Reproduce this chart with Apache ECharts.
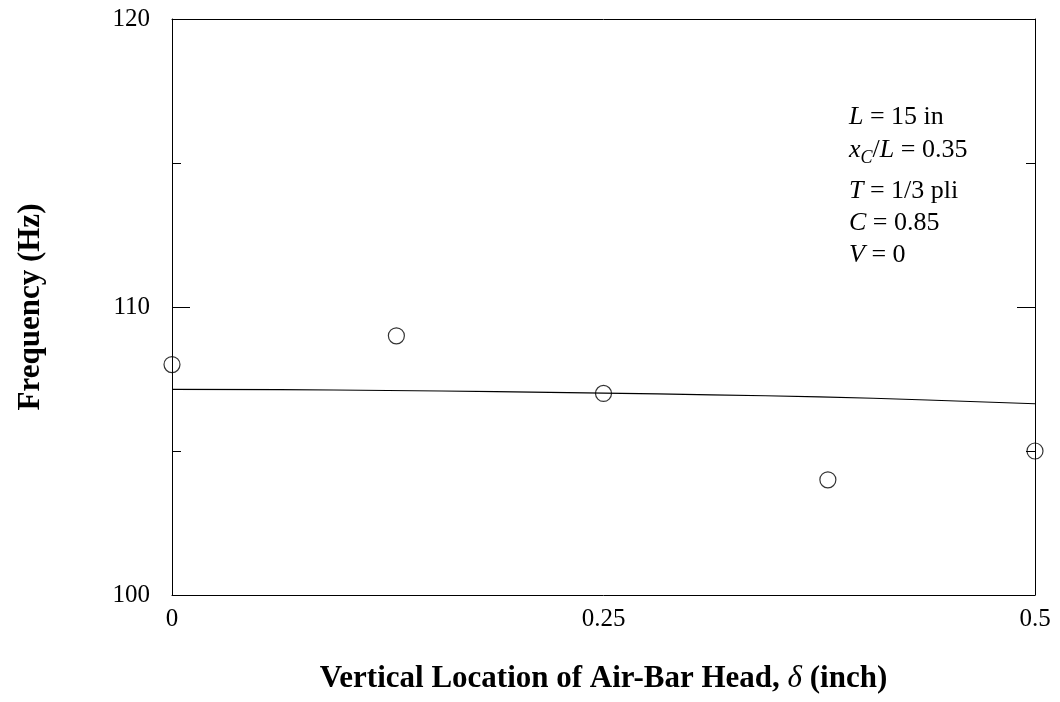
<!DOCTYPE html>
<html>
<head>
<meta charset="utf-8">
<script src="https://cdn.jsdelivr.net/npm/echarts@6/dist/echarts.min.js"></script>
<style>
  html, body { margin: 0; padding: 0; background: #fff; }
  #chart { width: 1060px; height: 702px; }
</style>
</head>
<body>
<div id="chart"></div>
<script>
// Measured frequencies vs. air-bar head vertical location
const measuredX = [0, 0.13, 0.25, 0.38, 0.5];
const measuredY = [108, 109, 107, 104, 105];

// Predicted frequency curve
const modelX = [0, 0.0625, 0.125, 0.1875, 0.25, 0.3125, 0.375, 0.4375, 0.5];
const modelY = [107.14, 107.13, 107.10, 107.06, 107.01, 106.95, 106.88, 106.77, 106.64];

// Axis tick labels
const xTickLabels = { 0: '0', 0.25: '0.25', 0.5: '0.5' };
const yTickLabels = { 100: '100', 110: '110', 120: '120' };

// Parameter annotation lines (rich-text markup)
const noteLines = [
  '{i|L}{r| = 15 in}',
  '{i|x}{s|C}{r|/}{i|L}{r| = 0.35}',
  '{i|T}{r| = 1/3 pli}',
  '{i|C}{r| = 0.85}',
  '{i|V}{r| = 0}'
];
const noteY = [117, 150, 191, 223, 255];

const serif = '"Liberation Serif", "Times New Roman", serif';

const chart = echarts.init(document.getElementById('chart'), null, { renderer: 'canvas' });

const frameLine = { show: true, onZero: false, lineStyle: { color: '#000', width: 1 } };
const yTicks = { show: true, inside: true, length: 18, lineStyle: { color: '#000', width: 1 } };
const yMinor = { show: true, splitNumber: 2, length: 9, lineStyle: { color: '#000', width: 1 } };

const noteRich = {
  i: { fontFamily: serif, fontSize: 26, fontStyle: 'italic', fill: '#000', lineHeight: 34 },
  r: { fontFamily: serif, fontSize: 26, fill: '#000', lineHeight: 34 },
  s: { fontFamily: serif, fontSize: 18, fontStyle: 'italic', fill: '#000', lineHeight: 18, verticalAlign: 'bottom' }
};

chart.setOption({
  animation: false,
  backgroundColor: '#fff',
  grid: { left: 172, right: 25, top: 19, bottom: 107, show: false, containLabel: false, outerBoundsMode: 'none' },
  xAxis: [{
    type: 'value', min: 0, max: 0.5, interval: 0.25, position: 'bottom',
    axisLine: frameLine,
    axisTick: { show: false },
    splitLine: { show: false },
    axisLabel: {
      margin: 12, color: '#000', fontFamily: serif, fontSize: 25,
      formatter: v => xTickLabels[v] !== undefined ? xTickLabels[v] : ''
    },
    name: '{b|Vertical Location of Air-Bar Head, }{d|δ}{b| (inch)}',
    nameLocation: 'middle', nameGap: 68,
    nameTextStyle: {
      rich: {
        b: { fontFamily: serif, fontSize: 31, fontWeight: 'bold', color: '#000' },
        d: { fontFamily: serif, fontSize: 31, fontStyle: 'italic', color: '#000' }
      }
    }
  }, {
    type: 'value', min: 0, max: 0.5, interval: 0.25, position: 'top',
    axisLine: frameLine, axisTick: { show: false }, axisLabel: { show: false },
    splitLine: { show: false }
  }],
  yAxis: [{
    type: 'value', min: 100, max: 120, interval: 10, position: 'left',
    axisLine: frameLine,
    axisTick: yTicks,
    minorTick: yMinor,
    splitLine: { show: false },
    axisLabel: {
      margin: 22, color: '#000', fontFamily: serif, fontSize: 25,
      formatter: v => yTickLabels[v] || ''
    },
    name: 'Frequency (Hz)', nameLocation: 'middle', nameGap: 126, nameRotate: 90,
    nameTextStyle: { fontFamily: serif, fontSize: 31, fontWeight: 'bold', color: '#000' }
  }, {
    type: 'value', min: 100, max: 120, interval: 10, position: 'right',
    axisLine: frameLine,
    axisTick: yTicks,
    minorTick: yMinor,
    axisLabel: { show: false }, splitLine: { show: false }
  }],
  graphic: noteLines.map((t, k) => ({
    type: 'text', x: 849, y: noteY[k],
    style: { text: t, rich: noteRich, verticalAlign: 'middle' }
  })),
  series: [{
    type: 'line', data: modelX.map((x, i) => [x, modelY[i]]),
    smooth: true, showSymbol: false, symbol: 'none',
    lineStyle: { color: '#000', width: 1.1 }, z: 2
  }, {
    type: 'scatter', data: measuredX.map((x, i) => [x, measuredY[i]]),
    symbol: 'circle', symbolSize: 16,
    itemStyle: { color: 'rgba(0,0,0,0)', borderColor: '#000', borderWidth: 1.2 },
    z: 3
  }]
});
</script>
</body>
</html>
